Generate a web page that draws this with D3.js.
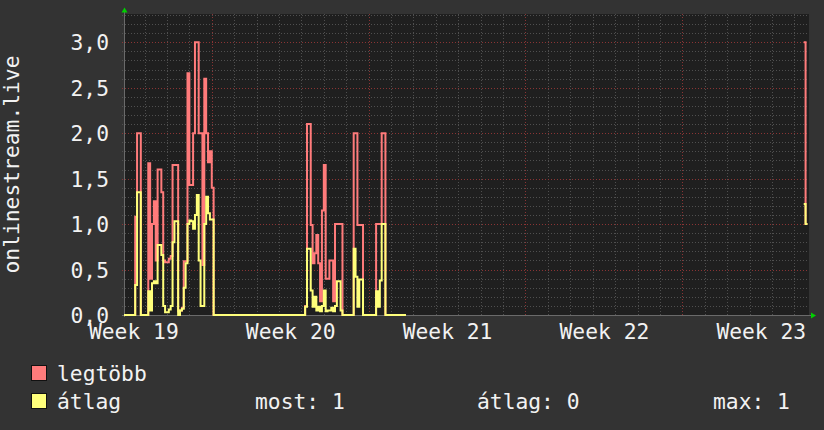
<!DOCTYPE html>
<html lang="hu">
<head>
<meta charset="UTF-8" />
<title>onlinestream.live</title>
<script src="https://d3js.org/d3.v7.min.js"></script>
<style>
  body { margin: 0; background: #333333; }
  svg { display: block; }
  text { font-family: "DejaVu Sans Mono", monospace; fill: #f2f2f2; font-size: 21.3px; }
</style>
</head>
<body>
<svg id="chart" width="824" height="430"></svg>
<script>
// graph window
const timeStart = '2024-05-09T02:00:00Z'
const timeEnd = '2024-06-08T15:40:00Z'
const stepHours = 2

// first block of samples (every 2 hours from timeStart)
const blockAStart = '2024-05-09T02:00:00Z'
const legtobbA = [
  0, 0, 0, 0, 0, 0, 1.08, 2.0, 2.0, 0,
  0, 0, 0, 1.67, 0.4, 1.0, 1.25, 0.6, 1.6, 1.6,
  1.35, 0.6, 0.58, 0.58, 0.62, 0.65, 1.65, 1.65, 1.65, 0.04,
  0.05, 0.08, 0.59, 0.59, 2.66, 1.43, 1.43, 2.0, 3.0, 3.0,
  2.0, 2.0, 0.55, 2.6, 2.0, 1.68, 1.8, 1.4, 0, 0,
  0, 0, 0, 0, 0, 0, 0, 0, 0, 0,
  0, 0, 0, 0, 0, 0, 0, 0, 0, 0,
  0, 0, 0, 0, 0, 0, 0, 0, 0, 0,
  0, 0, 0, 0, 0, 0, 0, 0, 0, 0,
  0, 0, 0, 0, 0, 0, 0, 0.1, 2.1, 2.1,
  0.99, 0.57, 0.68, 0.88, 0.57, 0.15, 1.15, 1.65, 0.4, 0.4,
  0.6, 0.6, 0.15, 1.0, 1.0, 1.0, 1.0, 0, 0, 0,
  0, 0, 0, 2.0, 2.0, 0.99, 0.99, 0.99, 0, 0,
  0, 0, 0, 0, 0, 1.0, 1.0, 1.0, 2.0, 2.0,
  0, 0, 0, 0, 0, 0, 0, 0, 0, 0,
  0, 0
]
const atlagA = [
  0, 0, 0, 0, 0, 0, 0.33, 1.35, 1.35, 0,
  0, 0, 0, 0.26, 0.05, 0.35, 0.37, 0.35, 0.77, 0.77,
  0.66, 0.1, 0.03, 0.03, 0.06, 0.1, 0.8, 1.03, 1.03, 0,
  0.05, 0.07, 0.3, 0.57, 1.0, 1.04, 1.03, 0.95, 1.1, 1.32,
  0.6, 0.1, 0.1, 1.0, 1.3, 1.12, 1.05, 1.05, 0, 0,
  0, 0, 0, 0, 0, 0, 0, 0, 0, 0,
  0, 0, 0, 0, 0, 0, 0, 0, 0, 0,
  0, 0, 0, 0, 0, 0, 0, 0, 0, 0,
  0, 0, 0, 0, 0, 0, 0, 0, 0, 0,
  0, 0, 0, 0, 0, 0, 0, 0.09, 0.73, 0.73,
  0.27, 0.09, 0.2, 0.05, 0.09, 0.04, 0.1, 0.27, 0.04, 0.05,
  0.05, 0.08, 0.04, 0.1, 0.37, 0.37, 0.05, 0, 0, 0,
  0, 0, 0, 0.73, 0.42, 0.09, 0.39, 0.39, 0, 0,
  0, 0, 0, 0, 0, 0.26, 0.09, 0.38, 1.0, 1.0,
  0, 0, 0, 0, 0, 0, 0, 0, 0, 0,
  0, 0
]

// last few samples at the right edge
const blockBStart = '2024-06-08T10:00:00Z'
const legtobbB = [3.0, 1.0, 1.0]
const atlagB = [1.22, 1.0, 1.0]

// axis labels
const yTicks = [0, 0.5, 1, 1.5, 2, 2.5, 3]
const yTickLabels = ['0,0', '0,5', '1,0', '1,5', '2,0', '2,5', '3,0']
const weekStarts = ['2024-05-06', '2024-05-13', '2024-05-20', '2024-05-27', '2024-06-03']
const weekLabels = ['Week 19', 'Week 20', 'Week 21', 'Week 22', 'Week 23']

// legend
const seriesNames = ['legtöbb', 'átlag']
const seriesColors = ['#ff7b7b', '#ffff7b']
const statNames = ['most', 'átlag', 'max']
const statValues = [1, 0, 1]

const svg = d3.select('#chart')
const plotLeft = 124, plotRight = 809, plotTop = 14, plotBottom = 315

const x = d3.scaleUtc()
  .domain([new Date(timeStart), new Date(timeEnd)])
  .range([plotLeft, plotRight])
const y = d3.scaleLinear()
  .domain([0, 3.3])
  .range([plotBottom, 15])

// canvas
svg.append('rect')
  .attr('x', plotLeft).attr('y', plotTop)
  .attr('width', plotRight - plotLeft).attr('height', plotBottom - plotTop)
  .attr('fill', '#1f1f1f')

const grid = svg.append('g').attr('shape-rendering', 'crispEdges')

// minor grid: every 0.1 and every day
grid.selectAll('.hmin')
  .data(y.ticks(33))
  .join('line')
  .attr('x1', plotLeft - 2).attr('x2', plotRight)
  .attr('y1', d => Math.round(y(d)) + 0.5).attr('y2', d => Math.round(y(d)) + 0.5)
  .attr('stroke', '#4f4f4f').attr('stroke-dasharray', '1,2')

grid.selectAll('.vmin')
  .data(d3.utcDay.range(x.domain()[0], x.domain()[1]))
  .join('line')
  .attr('x1', d => Math.round(x(d)) + 0.5).attr('x2', d => Math.round(x(d)) + 0.5)
  .attr('y1', plotTop).attr('y2', plotBottom + 2)
  .attr('stroke', '#4f4f4f').attr('stroke-dasharray', '1,2')

// major grid: every 0.5 and every week
grid.selectAll('.hmaj')
  .data(yTicks.filter(d => d > 0))
  .join('line')
  .attr('x1', plotLeft - 2).attr('x2', plotRight)
  .attr('y1', d => Math.round(y(d)) + 0.5).attr('y2', d => Math.round(y(d)) + 0.5)
  .attr('stroke', '#8a3434').attr('stroke-dasharray', '1,2')

const weekDates = weekStarts.map(d => new Date(d + 'T00:00:00Z'))
grid.selectAll('.vmaj')
  .data(weekDates.filter(d => d > x.domain()[0] && d < x.domain()[1]))
  .join('line')
  .attr('x1', d => Math.round(x(d)) + 0.5).attr('x2', d => Math.round(x(d)) + 0.5)
  .attr('y1', plotTop).attr('y2', plotBottom + 2)
  .attr('stroke', '#8a3434').attr('stroke-dasharray', '1,2')

// axes lines and arrows
svg.append('line')
  .attr('x1', plotLeft + 0.5).attr('x2', plotLeft + 0.5).attr('y1', 11).attr('y2', plotBottom + 2)
  .attr('stroke', '#6a6a6a')
svg.append('line')
  .attr('x1', plotLeft - 2).attr('x2', plotRight + 2).attr('y1', plotBottom + 0.5).attr('y2', plotBottom + 0.5)
  .attr('stroke', '#6a6a6a')
svg.append('path')
  .attr('d', `M${plotLeft - 2.5},12.5L${plotLeft + 3.5},12.5L${plotLeft + 0.5},7.5Z`)
  .attr('fill', '#00d000')
svg.append('path')
  .attr('d', `M${plotRight + 2},${plotBottom - 2.5}L${plotRight + 2},${plotBottom + 3.5}L${plotRight + 7},${plotBottom + 0.5}Z`)
  .attr('fill', '#00d000')

// data
const stepMs = stepHours * 3600 * 1000
function toPoints(startIso, values) {
  const t0 = new Date(startIso).getTime()
  return values.map((v, i) => ({ t: new Date(t0 + i * stepMs), v }))
}
const line = d3.line()
  .x(d => x(d.t))
  .y(d => y(d.v))
  .curve(d3.curveStepAfter)

const series = [
  [toPoints(blockAStart, legtobbA), toPoints(blockBStart, legtobbB)],
  [toPoints(blockAStart, atlagA), toPoints(blockBStart, atlagB)]
]
series.forEach((blocks, si) => {
  blocks.forEach(pts => {
    svg.append('path')
      .datum(pts)
      .attr('d', line)
      .attr('fill', 'none')
      .attr('stroke', seriesColors[si])
      .attr('stroke-width', 2)
      .attr('stroke-linejoin', 'miter')
  })
})

// y axis labels
const yAxis = svg.append('g')
  .attr('transform', `translate(${plotLeft - 14},0)`)
  .call(d3.axisLeft(y).tickValues(yTicks).tickSize(0).tickFormat((d, i) => yTickLabels[i]))
yAxis.select('.domain').remove()
yAxis.selectAll('text')
  .attr('x', -1)
  .attr('dy', '0.36em')
  .style('font-family', '"DejaVu Sans Mono", monospace')
  .style('font-size', '21.3px')
  .attr('fill', '#f2f2f2')

// x axis labels, centered in each week
const weekMids = weekDates.map(d => d3.utcHour.offset(d, 84))
const xAxis = svg.append('g')
  .attr('transform', `translate(0,${plotBottom})`)
  .call(d3.axisBottom(x).tickValues(weekMids).tickSize(0).tickFormat((d, i) => weekLabels[i]))
xAxis.select('.domain').remove()
xAxis.selectAll('text')
  .attr('y', 24)
  .attr('dy', 0)
  .style('font-family', '"DejaVu Sans Mono", monospace')
  .style('font-size', '21.3px')
  .attr('fill', '#f2f2f2')

// vertical title
svg.append('text')
  .attr('transform', `translate(19,${(plotTop + plotBottom) / 2}) rotate(-90)`)
  .attr('text-anchor', 'middle')
  .text('onlinestream.live')

// legend
const legend = svg.append('g')
seriesNames.forEach((name, i) => {
  const yy = 381 + i * 28
  legend.append('rect')
    .attr('x', 31.5).attr('y', yy - 15.5)
    .attr('width', 15).attr('height', 15)
    .attr('fill', seriesColors[i]).attr('stroke', '#111')
  legend.append('text')
    .attr('x', 57).attr('y', yy)
    .text(name)
})
const statX = [255, 477, 713]
statNames.forEach((name, i) => {
  legend.append('text')
    .attr('x', statX[i]).attr('y', 409)
    .text(`${name}: ${statValues[i]}`)
})
</script>
</body>
</html>
